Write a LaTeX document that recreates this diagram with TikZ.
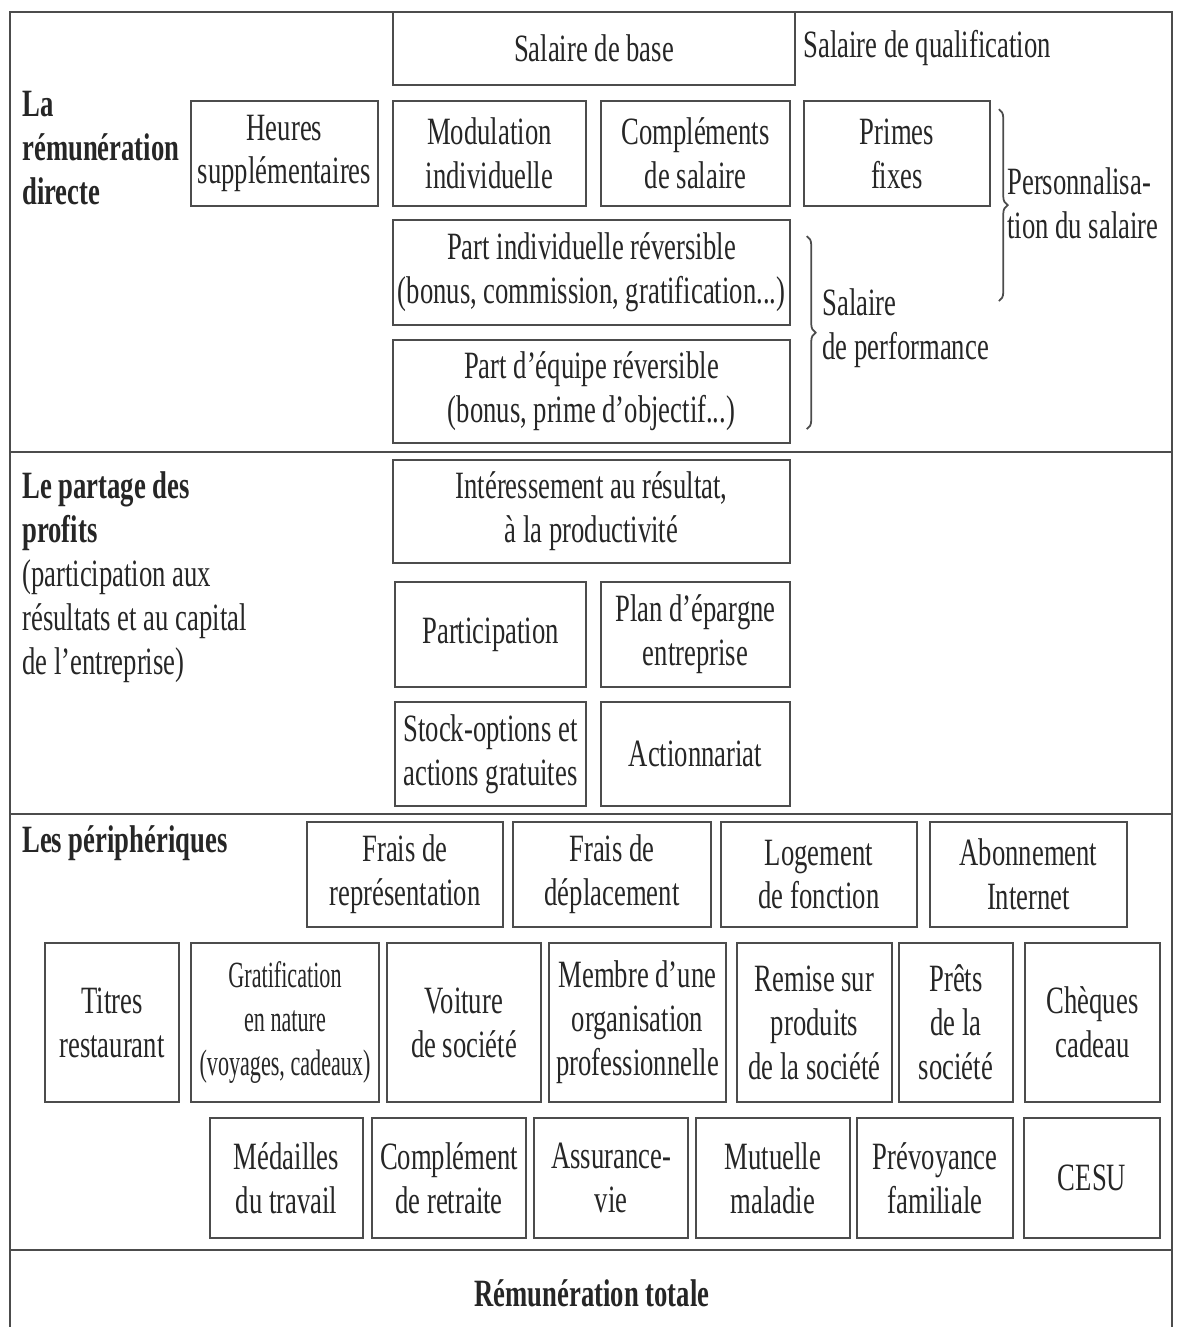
\documentclass[tikz,border=0pt]{standalone}
\usepackage{fontspec}
\setmainfont[FakeStretch = 0.69]{Liberation Serif}
\newfontfamily\narrowfont[FakeStretch = 0.6]{Liberation Serif}
\usetikzlibrary{decorations.pathreplacing}
\tikzstyle{box} = [rectangle, draw = black!70, line width = 1pt, inner sep = 0pt, align = center, text = black!85]
\tikzstyle{heading} = [anchor = west, align = left, inner sep = 0pt, text = black!85]
\tikzstyle{curly} = [decorate, decoration = {brace, amplitude = 5pt}, line width = 1pt, draw = black!70]
\tikzstyle{frame} = [black!70, line width = 1pt]

\begin{document}
\begin{tikzpicture}[x = 0.02cm, y = -0.02cm, font = \fontsize{22}{25}\selectfont]

	\useasboundingbox (0,0) rectangle (1184,1327);
	\draw[frame] (10,1327) |- (1172,12) -- (1172,1327);
	\draw[frame] (10,452) -- (1172,452);
	\draw[frame] (10,814) -- (1172,814);
	\draw[frame] (10,1250) -- (1172,1250);

	\node[heading](direct) at (22,148){\textbf{La}\\\textbf{rémunération}\\\textbf{directe}};
	\node[box,minimum width = 8.04cm,minimum height = 1.46cm](base) at (594,48.5){Salaire de base};
	\node[heading](qualif) at (803,48){Salaire de qualification};
	\node[box,minimum width = 3.74cm,minimum height = 2.1cm](heures) at (284.5,153.5){Heures\\supplémentaires};
	\node[box,minimum width = 3.86cm,minimum height = 2.1cm](modulation) at (489.5,153.5){Modulation\\individuelle};
	\node[box,minimum width = 3.78cm,minimum height = 2.1cm](complements) at (695.5,153.5){Compléments\\de salaire};
	\node[box,minimum width = 3.72cm,minimum height = 2.1cm](primes) at (897,153.5){Primes\\fixes};
	\node[box,minimum width = 7.94cm,minimum height = 2.1cm](part individuelle) at (591.5,272.5){Part individuelle réversible\\(bonus, commission, gratification...)};
	\node[box,minimum width = 7.94cm,minimum height = 2.06cm](part equipe) at (591.5,391.5){Part d'équipe réversible\\(bonus, prime d'objectif...)};
	\node[heading](perso) at (1007,203){Personnalisa-\\tion du salaire};
	\node[heading](perf) at (822,328){Salaire\\de performance};

	\draw[curly](primes.north east) ++(8,9) coordinate(perso top) -- ++(0,192) coordinate(perso bottom);
	\draw[curly](part individuelle.north east) ++(16,17) coordinate(perf top) -- ++(0,193) coordinate(perf bottom);

	\node[heading](profits) at (22,577){\textbf{Le partage des}\\\textbf{profits}\\(participation aux\\résultats et au capital\\de l'entreprise)};
	\node[box,minimum width = 7.94cm,minimum height = 2.06cm](interessement) at (591.5,511.5){Intéressement au résultat,\\à la productivité};
	\node[box,minimum width = 3.82cm,minimum height = 2.1cm](participation) at (490.5,634.5){Participation};
	\node[box,minimum width = 3.78cm,minimum height = 2.1cm](epargne) at (695.5,634.5){Plan d'épargne\\entreprise};
	\node[box,minimum width = 3.82cm,minimum height = 2.08cm](stock) at (490.5,754){Stock-options et\\actions gratuites};
	\node[box,minimum width = 3.78cm,minimum height = 2.08cm](actionnariat) at (695.5,754){Actionnariat};

	\node[heading](periph) at (22,843){\textbf{Les périphériques}};
	\node[box,minimum width = 3.92cm,minimum height = 2.1cm](frais rep) at (405,874.5){Frais de\\représentation};
	\node[box,minimum width = 3.96cm,minimum height = 2.1cm](frais dep) at (612,874.5){Frais de\\déplacement};
	\node[box,minimum width = 3.92cm,minimum height = 2.1cm](logement) at (819,874.5){Logement\\de fonction};
	\node[box,minimum width = 3.94cm,minimum height = 2.1cm](internet) at (1028.5,874.5){Abonnement\\Internet};

	\node[box,minimum width = 2.68cm,minimum height = 3.18cm](titres) at (112,1022.5){Titres\\restaurant};
	\node[box,minimum width = 3.76cm,minimum height = 3.18cm,font = \narrowfont\fontsize{21}{25}\selectfont](gratification) at (285,1022.5){Gratification\\en nature\\(voyages, cadeaux)};
	\node[box,minimum width = 3.08cm,minimum height = 3.18cm](voiture) at (464,1022.5){Voiture\\de société};
	\node[box,minimum width = 3.54cm,minimum height = 3.18cm](membre) at (637.5,1022.5){Membre d'une\\organisation\\professionnelle};
	\node[box,minimum width = 3.1cm,minimum height = 3.18cm](remise) at (814.5,1022.5){Remise sur\\produits\\de la société};
	\node[box,minimum width = 2.28cm,minimum height = 3.18cm](prets) at (956,1022.5){Prêts\\de la\\société};
	\node[box,minimum width = 2.7cm,minimum height = 3.18cm](cheques) at (1092.5,1022.5){Chèques\\cadeau};

	\node[box,minimum width = 3.06cm,minimum height = 2.4cm](medailles) at (286.5,1178){Médailles\\du travail};
	\node[box,minimum width = 3.08cm,minimum height = 2.4cm](retraite) at (449,1178){Complément\\de retraite};
	\node[box,minimum width = 3.08cm,minimum height = 2.4cm](assurance) at (611,1178){Assurance-\\vie};
	\node[box,minimum width = 3.08cm,minimum height = 2.4cm](mutuelle) at (773,1178){Mutuelle\\maladie};
	\node[box,minimum width = 3.12cm,minimum height = 2.4cm](prevoyance) at (935,1178){Prévoyance\\familiale};
	\node[box,minimum width = 2.72cm,minimum height = 2.4cm](cesu) at (1092,1178){CESU};

	\node[text = black!85](total) at (592,1293){\textbf{Rémunération totale}};

\end{tikzpicture}
\end{document}
